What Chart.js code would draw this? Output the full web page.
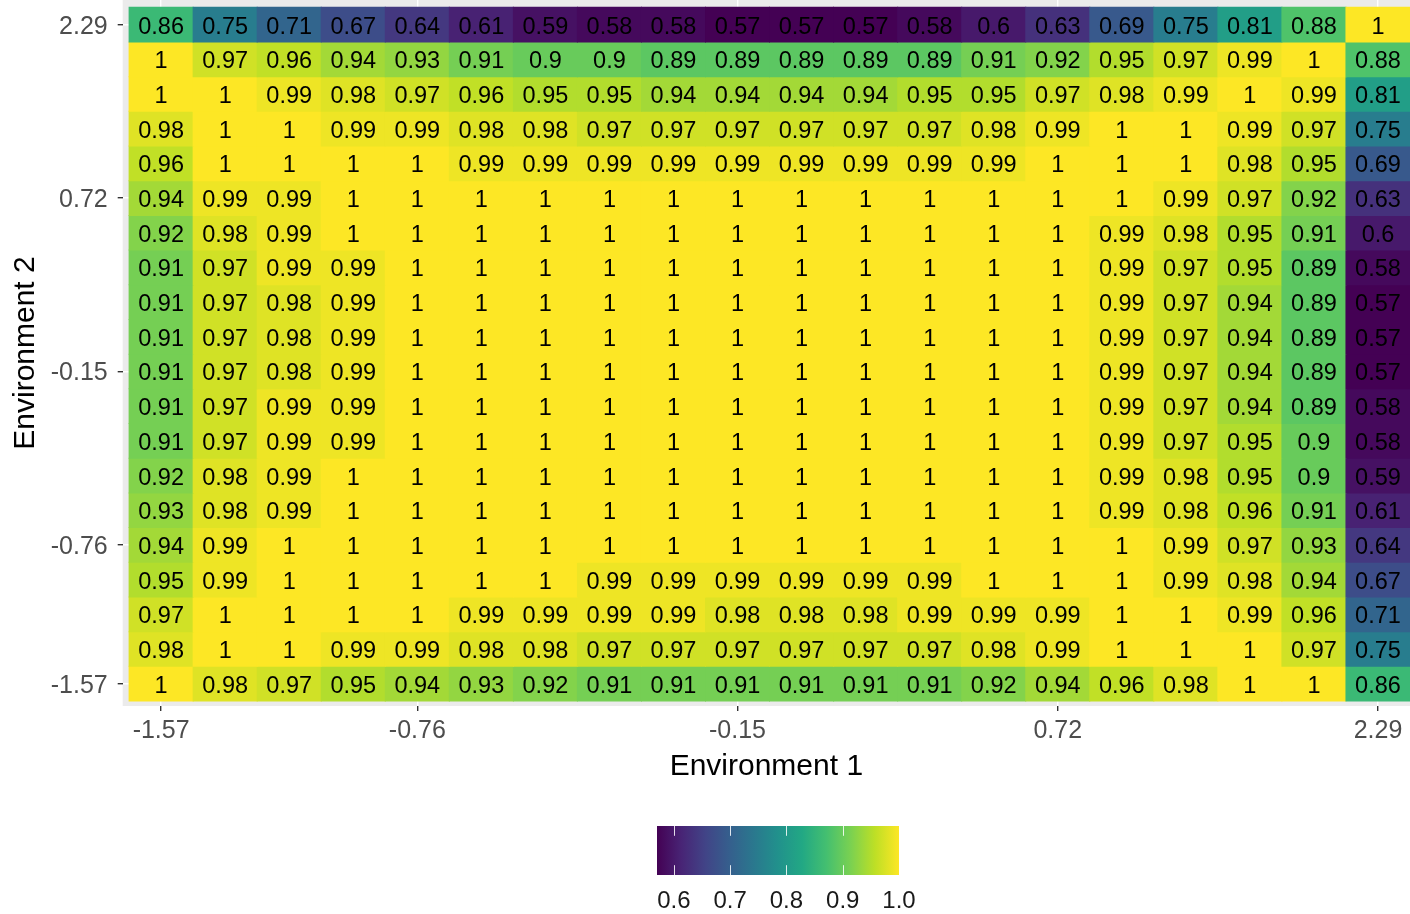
<!DOCTYPE html>
<html>
<head>
<meta charset="utf-8">
<script src="https://cdn.jsdelivr.net/npm/chart.js@4.4.0/dist/chart.umd.min.js"></script>
<style>
  html, body { margin: 0; padding: 0; background: #ffffff; overflow: hidden; }
  canvas { display: block; }
</style>
</head>
<body>
<canvas id="heat" width="1410" height="914"></canvas>
<script>
// Axis break positions (cell indices) and their labels
const xTickAt = [0, 4, 9, 14, 19];
const xTickLabels = ['-1.57', '-0.76', '-0.15', '0.72', '2.29'];
const yTickAt = [0, 4, 9, 14, 19];
const yTickLabels = ['-1.57', '-0.76', '-0.15', '0.72', '2.29'];

// Cell values, one row per Environment 2 level, listed from the top row (2.29) down to -1.57
const rowsTopDown = [
  [0.86, 0.75, 0.71, 0.67, 0.64, 0.61, 0.59, 0.58, 0.58, 0.57, 0.57, 0.57, 0.58, 0.6, 0.63, 0.69, 0.75, 0.81, 0.88, 1],
  [1, 0.97, 0.96, 0.94, 0.93, 0.91, 0.9, 0.9, 0.89, 0.89, 0.89, 0.89, 0.89, 0.91, 0.92, 0.95, 0.97, 0.99, 1, 0.88],
  [1, 1, 0.99, 0.98, 0.97, 0.96, 0.95, 0.95, 0.94, 0.94, 0.94, 0.94, 0.95, 0.95, 0.97, 0.98, 0.99, 1, 0.99, 0.81],
  [0.98, 1, 1, 0.99, 0.99, 0.98, 0.98, 0.97, 0.97, 0.97, 0.97, 0.97, 0.97, 0.98, 0.99, 1, 1, 0.99, 0.97, 0.75],
  [0.96, 1, 1, 1, 1, 0.99, 0.99, 0.99, 0.99, 0.99, 0.99, 0.99, 0.99, 0.99, 1, 1, 1, 0.98, 0.95, 0.69],
  [0.94, 0.99, 0.99, 1, 1, 1, 1, 1, 1, 1, 1, 1, 1, 1, 1, 1, 0.99, 0.97, 0.92, 0.63],
  [0.92, 0.98, 0.99, 1, 1, 1, 1, 1, 1, 1, 1, 1, 1, 1, 1, 0.99, 0.98, 0.95, 0.91, 0.6],
  [0.91, 0.97, 0.99, 0.99, 1, 1, 1, 1, 1, 1, 1, 1, 1, 1, 1, 0.99, 0.97, 0.95, 0.89, 0.58],
  [0.91, 0.97, 0.98, 0.99, 1, 1, 1, 1, 1, 1, 1, 1, 1, 1, 1, 0.99, 0.97, 0.94, 0.89, 0.57],
  [0.91, 0.97, 0.98, 0.99, 1, 1, 1, 1, 1, 1, 1, 1, 1, 1, 1, 0.99, 0.97, 0.94, 0.89, 0.57],
  [0.91, 0.97, 0.98, 0.99, 1, 1, 1, 1, 1, 1, 1, 1, 1, 1, 1, 0.99, 0.97, 0.94, 0.89, 0.57],
  [0.91, 0.97, 0.99, 0.99, 1, 1, 1, 1, 1, 1, 1, 1, 1, 1, 1, 0.99, 0.97, 0.94, 0.89, 0.58],
  [0.91, 0.97, 0.99, 0.99, 1, 1, 1, 1, 1, 1, 1, 1, 1, 1, 1, 0.99, 0.97, 0.95, 0.9, 0.58],
  [0.92, 0.98, 0.99, 1, 1, 1, 1, 1, 1, 1, 1, 1, 1, 1, 1, 0.99, 0.98, 0.95, 0.9, 0.59],
  [0.93, 0.98, 0.99, 1, 1, 1, 1, 1, 1, 1, 1, 1, 1, 1, 1, 0.99, 0.98, 0.96, 0.91, 0.61],
  [0.94, 0.99, 1, 1, 1, 1, 1, 1, 1, 1, 1, 1, 1, 1, 1, 1, 0.99, 0.97, 0.93, 0.64],
  [0.95, 0.99, 1, 1, 1, 1, 1, 0.99, 0.99, 0.99, 0.99, 0.99, 0.99, 1, 1, 1, 0.99, 0.98, 0.94, 0.67],
  [0.97, 1, 1, 1, 1, 0.99, 0.99, 0.99, 0.99, 0.98, 0.98, 0.98, 0.99, 0.99, 0.99, 1, 1, 0.99, 0.96, 0.71],
  [0.98, 1, 1, 0.99, 0.99, 0.98, 0.98, 0.97, 0.97, 0.97, 0.97, 0.97, 0.97, 0.98, 0.99, 1, 1, 1, 0.97, 0.75],
  [1, 0.98, 0.97, 0.95, 0.94, 0.93, 0.92, 0.91, 0.91, 0.91, 0.91, 0.91, 0.91, 0.92, 0.94, 0.96, 0.98, 1, 1, 0.86]
];

// Colour bar breaks
const legendBreaks = [0.6, 0.7, 0.8, 0.9, 1.0];

// Viridis palette anchors (evenly spaced from 0 to 1)
const viridis = ['#440154', '#482475', '#414487', '#355f8d', '#2a788e', '#21918c',
                 '#22a884', '#44bf70', '#7ad151', '#bddf26', '#fde725'];

const allValues = rowsTopDown.flat();
const colorMin = Math.min(...allValues);
const colorMax = Math.max(...allValues);

function hexToRgb(h) {
  const n = parseInt(h.slice(1), 16);
  return [(n >> 16) & 255, (n >> 8) & 255, n & 255];
}
function viridisAt(t) {
  t = Math.min(1, Math.max(0, t));
  const p = t * (viridis.length - 1);
  const i = Math.min(Math.floor(p), viridis.length - 2);
  const f = p - i;
  const a = hexToRgb(viridis[i]), b = hexToRgb(viridis[i + 1]);
  const c = a.map((v, k) => Math.round(v + (b[k] - v) * f));
  return `rgb(${c[0]},${c[1]},${c[2]})`;
}
function fillFor(v) {
  return viridisAt((v - colorMin) / (colorMax - colorMin));
}

const FONT = '"Liberation Sans", Arial, Helvetica, sans-serif';
const nRows = rowsTopDown.length;

// One floating-bar dataset per row; each bar spans one cell vertically
const datasets = rowsTopDown.map((row, r) => {
  const yi = nRows - 1 - r;
  return {
    label: yTickLabels[yTickAt.indexOf(yi)] || String(yi),
    values: row,
    data: row.map((v, c) => ({ x: c, y: [yi - 0.5, yi + 0.5] })),
    backgroundColor: row.map(fillFor),
    borderWidth: 0,
    inflateAmount: 0.5,
    barPercentage: 1,
    categoryPercentage: 1
  };
});

// Grey panel behind the tiles
const panelBackground = {
  id: 'panelBackground',
  beforeDraw(chart) {
    const { ctx, chartArea: a } = chart;
    ctx.save();
    ctx.fillStyle = '#EBEBEB';
    ctx.fillRect(a.left, a.top, a.right - a.left, a.bottom - a.top);
    ctx.restore();
  }
};

// Value printed at the centre of every tile
const cellLabels = {
  id: 'cellLabels',
  afterDatasetsDraw(chart) {
    const ctx = chart.ctx;
    ctx.save();
    ctx.font = `23.5px ${FONT}`;
    ctx.fillStyle = '#000000';
    ctx.textAlign = 'center';
    ctx.textBaseline = 'middle';
    chart.data.datasets.forEach((ds, i) => {
      const meta = chart.getDatasetMeta(i);
      meta.data.forEach((el, j) => {
        ctx.fillText(String(ds.values[j]), el.x, (el.y + el.base) / 2 + 2.5);
      });
    });
    ctx.restore();
  }
};

// Continuous colour bar under the plot
const colorBar = {
  id: 'colorBar',
  afterDraw(chart) {
    const ctx = chart.ctx;
    const left = 657, right = 899, top = 826, bottom = 875;
    const w = right - left, h = bottom - top;
    ctx.save();
    const g = ctx.createLinearGradient(left, 0, right, 0);
    viridis.forEach((c, i) => g.addColorStop(i / (viridis.length - 1), c));
    ctx.fillStyle = g;
    ctx.fillRect(left, top, w, h);
    const px = v => left + (v - colorMin) / (colorMax - colorMin) * w;
    ctx.strokeStyle = 'rgba(255,255,255,0.85)';
    ctx.lineWidth = 1;
    legendBreaks.forEach(v => {
      const x = Math.round(px(v)) + 0.5;
      ctx.beginPath();
      ctx.moveTo(x, top); ctx.lineTo(x, top + h / 5);
      ctx.moveTo(x, bottom - h / 5); ctx.lineTo(x, bottom);
      ctx.stroke();
    });
    ctx.font = `24px ${FONT}`;
    ctx.fillStyle = '#1A1A1A';
    ctx.textAlign = 'center';
    ctx.textBaseline = 'middle';
    legendBreaks.forEach(v => ctx.fillText(v.toFixed(1), px(v), 901));
    ctx.restore();
  }
};

const gridStyle = {
  color: '#FFFFFF',
  lineWidth: 1.4,
  drawTicks: true,
  tickLength: 5,
  tickColor: '#333333',
  tickWidth: 1.4,
  offset: false
};

new Chart(document.getElementById('heat'), {
  type: 'bar',
  data: { datasets },
  plugins: [panelBackground, cellLabels, colorBar],
  options: {
    responsive: false,
    animation: false,
    events: [],
    layout: { padding: 0 },
    plugins: { legend: { display: false }, tooltip: { enabled: false } },
    scales: {
      x: {
        type: 'linear',
        min: -0.6,
        max: 19.5,
        offset: false,
        stacked: true,
        afterBuildTicks: s => { s.ticks = xTickAt.map(v => ({ value: v })); },
        afterFit: s => { s.height = 208; s.paddingLeft = 0; s.paddingRight = 0; },
        ticks: {
          autoSkip: false,
          maxRotation: 0,
          color: '#4D4D4D',
          padding: 5,
          font: { family: FONT, size: 25 },
          callback: v => xTickLabels[xTickAt.indexOf(v)]
        },
        grid: gridStyle,
        border: { display: false },
        title: {
          display: true,
          text: 'Environment 1',
          color: '#000000',
          font: { family: FONT, size: 30 },
          padding: { top: 0, bottom: 129 }
        }
      },
      y: {
        type: 'linear',
        min: -0.644,
        max: 19.71,
        stacked: false,
        beginAtZero: false,
        afterBuildTicks: s => { s.ticks = yTickAt.map(v => ({ value: v })); },
        afterFit: s => { s.width = 122.7; s.paddingTop = 0; s.paddingBottom = 0; },
        ticks: {
          autoSkip: false,
          color: '#4D4D4D',
          padding: 10,
          labelOffset: 2,
          font: { family: FONT, size: 25 },
          callback: v => yTickLabels[yTickAt.indexOf(v)]
        },
        grid: gridStyle,
        border: { display: false },
        title: {
          display: true,
          text: 'Environment 2',
          color: '#000000',
          font: { family: FONT, size: 30 },
          padding: { top: 8, bottom: 0 }
        }
      }
    }
  }
});
</script>
</body>
</html>
